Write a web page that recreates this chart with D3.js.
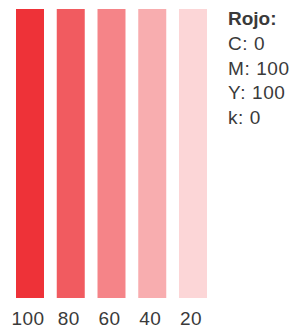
<!DOCTYPE html>
<html>
<head>
<meta charset="utf-8">
<script src="https://cdn.jsdelivr.net/npm/d3@7"></script>
<style>
  html, body { margin: 0; padding: 0; background: #fff; }
  svg { display: block; font-family: "Liberation Sans", Arial, Helvetica, sans-serif; }
</style>
</head>
<body>
<div id="chart"></div>
<script>
// tint percentages shown under each swatch
const tints = [100, 80, 60, 40, 20];
// base colour (CMYK 0/100/100/0 shown on screen)
const baseRgb = [238, 50, 56];
const legendTitle = "Rojo:";
const legendLines = ["C: 0", "M: 100", "Y: 100", "k: 0"];

const width = 293;
const height = 328;

const svg = d3.select("#chart")
    .append("svg")
    .attr("width", width)
    .attr("height", height);

const x = d3.scaleBand()
    .domain(tints)
    .range([16, 207])
    .paddingInner(0.313)
    .paddingOuter(0);

const y = d3.scaleLinear()
    .domain([0, 100])
    .range([298, 9]);

function tintColor(t) {
    const k = t / 100;
    const c = baseRgb.map(v => Math.round(255 + (v - 255) * k));
    return d3.rgb(c[0], c[1], c[2]).toString();
}

svg.selectAll("rect.swatch")
    .data(tints)
    .enter()
    .append("rect")
    .attr("class", "swatch")
    .attr("x", d => x(d))
    .attr("y", y(100))
    .attr("width", x.bandwidth())
    .attr("height", y(0) - y(100))
    .attr("fill", d => tintColor(d));

svg.selectAll("text.tick")
    .data(tints)
    .enter()
    .append("text")
    .attr("class", "tick")
    .attr("x", d => x(d) + x.bandwidth() / 2 - 2)
    .attr("y", 325)
    .attr("text-anchor", "middle")
    .attr("fill", "#3a3a3a")
    .style("font-size", "19px")
    .style("letter-spacing", "0.4px")
    .text(d => d);

const legend = svg.append("g")
    .attr("transform", "translate(228,0)");

legend.append("text")
    .attr("x", 0)
    .attr("y", 25)
    .attr("fill", "#3a3a3a")
    .style("font-size", "19px")
    .style("font-weight", "bold")
    .text(legendTitle);

legend.selectAll("text.line")
    .data(legendLines)
    .enter()
    .append("text")
    .attr("class", "line")
    .attr("x", 0)
    .attr("y", (d, i) => 50 + i * 24.7)
    .attr("fill", "#3a3a3a")
    .style("font-size", "19px")
    .style("letter-spacing", "0.6px")
    .text(d => d);
</script>
</body>
</html>
